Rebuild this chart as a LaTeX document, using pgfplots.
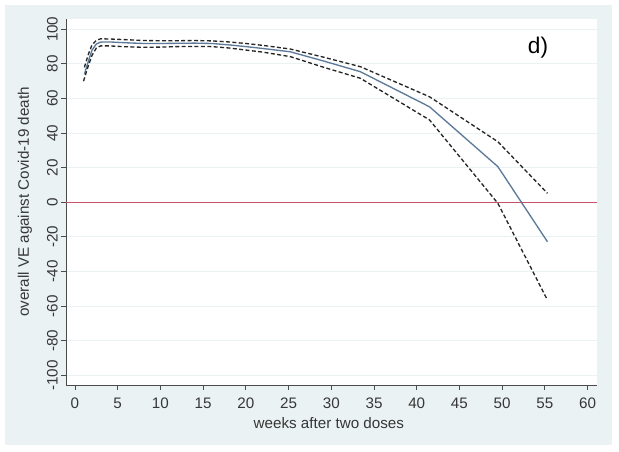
\documentclass[border=0pt]{standalone}
\usepackage{fontspec}
\setmainfont{Liberation Sans}
\usepackage{pgfplots}
\pgfplotsset{compat=1.18}
\definecolor{bgc}{RGB}{234,242,243}
\definecolor{gridc}{RGB}{234,242,243}
\definecolor{mainc}{RGB}{92,122,152}
\definecolor{redc}{RGB}{200,82,106}
\definecolor{axc}{RGB}{75,75,75}
\definecolor{txtc}{RGB}{55,55,55}
\begin{document}
\begin{tikzpicture}[x=1pt,y=1pt]
\useasboundingbox (0,0) rectangle (464.25,338.25);
\fill[bgc] (3.75,4.5) rectangle (459,334.5);
\begin{axis}[
  at={(49.5pt,49.5pt)}, anchor=south west,
  scale only axis, width=398.25pt, height=274.5pt,
  xmin=-1.05, xmax=61.1, ymin=-105.6, ymax=105.95,
  axis background/.style={fill=white},
  axis lines*=left,
  axis line style={-, draw=axc, line width=0.7pt},
  tick align=outside,
  major tick length=3.75pt,
  tick style={draw=axc, line width=0.7pt},
  xtick={0,5,...,60},
  ytick={-100,-80,...,100},
  ymajorgrids,
  grid style={draw=gridc, line width=0.8pt},
  /pgf/number format/assume math mode=true,
  tick label style={font=\fontsize{11.4}{13}\selectfont, text=txtc},
  xticklabel style={anchor=north, inner sep=0pt},
  xticklabel shift=5.8pt,
  yticklabel style={rotate=90, anchor=south, inner sep=0pt},
  yticklabel shift=2.3pt,
  xlabel={weeks after two doses},
  ylabel={overall VE against Covid-19 death},
  label style={font=\fontsize{11.4}{13}\selectfont, text=txtc},
  xlabel style={at={(axis description cs:0.495,-0.104)}, anchor=center},
  ylabel style={at={(axis description cs:-0.0772,0.5)}, anchor=center},
  clip=false,
]
\addplot[redc, line width=1.1pt] coordinates {(-1.05,0) (61.1,0)};
\addplot[mainc, line width=1pt] coordinates {
(1.1,74) (1.6,82) (2.0,88) (2.5,91.5) (3,92.6) (4,92.7) (6,92.2) (8,91.8)
(10,91.8) (12,91.9) (14,92) (16,91.8) (18,91) (20,90) (22,88.9) (25.2,87)
(29,81.8) (33.4,75.5) (41.5,55.2) (49.5,20.6) (55.3,-22.8)};
\addplot[black!85, line width=1pt, dash pattern=on 3pt off 1.8pt] coordinates {
(1.1,78) (1.6,86) (2.0,91) (2.5,93.6) (3,94.5) (4,94.4) (6,94) (8,93.5)
(10,93.4) (12,93.4) (14,93.5) (16,93.3) (18,92.7) (20,91.8) (22,90.7) (25.2,88.6)
(29,84) (33.4,78.4) (41.5,61) (49.5,35) (55.3,5.2)};
\addplot[black!85, line width=1pt, dash pattern=on 3pt off 1.8pt] coordinates {
(1.0,70) (1.5,78) (2.0,85) (2.5,89.2) (3,90.4) (4,90.4) (6,89.9) (8,89.6)
(10,89.7) (12,90) (14,90.1) (16,90) (18,89.2) (20,88) (22,86.8) (25.2,84.2)
(29,78.2) (33.4,71.7) (41.5,47.6) (49.5,-0.6) (55.3,-56.5)};
\node[font=\fontsize{17}{20}\selectfont, text=black] at (axis cs:54.2,89.5) {d)};
\end{axis}
\end{tikzpicture}
\end{document}
